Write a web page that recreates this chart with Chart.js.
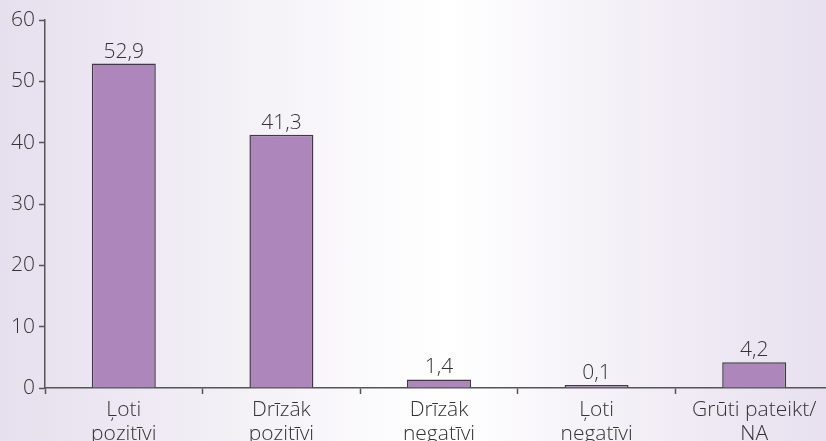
<!DOCTYPE html>
<html>
<head>
<meta charset="utf-8">
<script src="https://cdn.jsdelivr.net/npm/chart.js@4/dist/chart.umd.min.js"></script>
<style>
  html, body { margin: 0; padding: 0; overflow: hidden; }
  body {
    width: 826px; height: 441px;
    background: linear-gradient(to right, #e6dfee 0%, #f4f1f7 30%, #ffffff 54%, #f5f2f8 72%, #e8e0ef 100%);
  }
  #wrap { width: 833px; height: 441px; }
</style>
</head>
<body>
<div id="wrap"><canvas id="chart"></canvas></div>
<script>
/* Bar chart: values per answer category */
const CATEGORIES = [
  ['Ļoti', 'pozitīvi'],
  ['Drīzāk', 'pozitīvi'],
  ['Drīzāk', 'negatīvi'],
  ['Ļoti', 'negatīvi'],
  ['Grūti pateikt/', 'NA'],
];
const VALUES = [52.9, 41.3, 1.4, 0.1, 4.2];
const Y_TICKS = [0, 10, 20, 30, 40, 50, 60];

const FONT = { family: "'Open Sans', 'Noto Sans', sans-serif", size: 21, weight: '300', lineHeight: 1.15 };
const AXIS = '#555555';
const TEXT = '#333333';

// value labels above each bar, decimal comma
const valueLabels = {
  id: 'valueLabels',
  afterDatasetsDraw(chart) {
    const ctx = chart.ctx;
    const meta = chart.getDatasetMeta(0);
    ctx.save();
    ctx.font = `${FONT.weight} ${FONT.size}px ${FONT.family}`;
    ctx.fillStyle = TEXT;
    ctx.textAlign = 'center';
    ctx.textBaseline = 'alphabetic';
    meta.data.forEach((bar, i) => {
      ctx.fillText(VALUES[i].toFixed(1).replace('.', ','), bar.x, bar.y - 6);
    });
    ctx.restore();
  },
};

new Chart(document.getElementById('chart'), {
  type: 'bar',
  data: {
    labels: CATEGORIES,
    datasets: [{
      data: VALUES,
      backgroundColor: '#ad86bb',
      borderColor: '#3d3d3d',
      borderWidth: 1.5,
      borderSkipped: 'bottom',
      minBarLength: 3,
      categoryPercentage: 1,
      barPercentage: 0.406,
    }],
  },
  options: {
    responsive: true,
    maintainAspectRatio: false,
    animation: false,
    layout: { padding: { top: 20, right: 0, left: 0, bottom: 0 } },
    plugins: { legend: { display: false }, tooltip: { enabled: false } },
    scales: {
      x: {
        border: { color: AXIS, width: 1.5 },
        grid: { offset: true, drawOnChartArea: false, tickLength: 6, tickColor: AXIS, tickWidth: 1.5 },
        ticks: { color: TEXT, font: FONT, padding: 4, maxRotation: 0, autoSkip: false },
        afterFit(scale) { scale.height = 53; },
      },
      y: {
        min: 0,
        max: 60,
        afterBuildTicks(scale) { scale.ticks = Y_TICKS.map((v) => ({ value: v })); },
        border: { color: AXIS, width: 1.5 },
        grid: { drawOnChartArea: false, tickLength: 6, tickColor: AXIS, tickWidth: 1.5 },
        ticks: { color: TEXT, font: FONT, padding: 4 },
        afterFit(scale) { scale.width = 45; },
      },
    },
  },
  plugins: [valueLabels],
});
</script>
</body>
</html>
